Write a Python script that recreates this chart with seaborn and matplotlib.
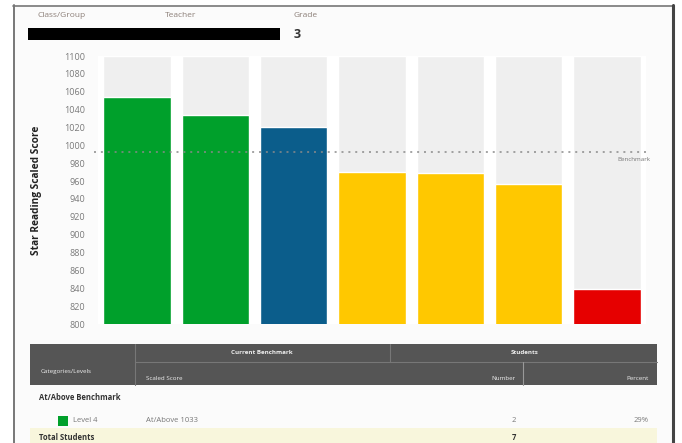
import matplotlib
matplotlib.use("Agg")
import matplotlib.pyplot as plt
from matplotlib.patches import Rectangle
import matplotlib.transforms as mtransforms
import pandas as pd
import seaborn as sns

# ---- data -------------------------------------------------------------
students = ["A", "B", "C", "D", "E", "F", "G"]
scores = [1054, 1034, 1020, 970, 969, 957, 839]
levels = ["Level 4", "Level 4", "Level 3", "Level 2", "Level 2", "Level 2", "Level 1"]
level_colors = {"Level 4": "#00a02b", "Level 3": "#0b5d8b",
                "Level 2": "#ffc800", "Level 1": "#e60000"}
benchmark = 993
y_min, y_max = 800, 1100
y_ticks = list(range(800, 1101, 20))

grade = "3"
table_rows = [("Level 4", "At/Above 1033", "2", "29%")]
total_students = "7"

df = pd.DataFrame({"student": students, "score": scores, "level": levels,
                   "full": [y_max] * len(students)})

sns.set_theme(style="white")
plt.rcParams["font.family"] = ["Open Sans", "DejaVu Sans"]

W, H = 682, 443
fig = plt.figure(figsize=(W / 100, H / 100), dpi=100)
fig.patch.set_facecolor("#ffffff")

# page-level canvas in pixel coordinates
pg = fig.add_axes([0, 0, 1, 1], zorder=0)
pg.set_xlim(0, W)
pg.set_ylim(H, 0)
pg.axis("off")

# report panel with border
pg.add_patch(Rectangle((13, 5), 660, 450, facecolor="#fbfbfb", edgecolor="none"))
pg.plot([13.5, 13.5], [5, H], color="#777777", lw=1.4)
pg.plot([13, 673], [5.5, 5.5], color="#777777", lw=1.2)
pg.plot([672.5, 672.5], [5, H], color="#444444", lw=2.2)

# header block
hdr_col = "#8c7f78"
pg.text(38, 15, "Class/Group", fontsize=6, color=hdr_col, va="center")
pg.text(165, 15, "Teacher", fontsize=6, color=hdr_col, va="center")
pg.text(294, 15, "Grade", fontsize=6, color=hdr_col, va="center")
pg.add_patch(Rectangle((27.5, 28), 252, 12, facecolor="#000000", edgecolor="none"))
pg.text(294, 34, grade, fontsize=9, fontweight="bold", color="#333333", va="center")

# ---- bar chart ----------------------------------------------------------
ax = fig.add_axes([98 / W, (H - 324) / H, 548 / W, 268 / H], zorder=2)
ax.set_facecolor("#ffffff")

sns.barplot(data=df, x="student", y="full", color="#efefef", width=0.86,
            saturation=1, ax=ax, zorder=1)
sns.barplot(data=df, x="student", y="score", hue="level", palette=level_colors,
            width=0.86, saturation=1, dodge=False, legend=False, ax=ax, zorder=2)

ax.set_xlim(-0.5, len(students) - 0.5)
ax.set_ylim(y_min, y_max)
ax.set_yticks(y_ticks)
ax.set_yticklabels([str(t) for t in y_ticks])
ax.set_xticks([])
ax.set_xlabel("")
ax.set_ylabel("Star Reading Scaled Score", fontsize=7.3, fontweight="bold",
              color="#222222")
ax.yaxis.set_label_coords((42 - 98) / 548, (324 - 190) / 268)
ax.tick_params(axis="y", length=0, pad=9, labelsize=6.5, labelcolor="#7a7a7a")
for s in ax.spines.values():
    s.set_visible(False)

ax.axhline(benchmark, xmin=-4 / 548, xmax=552 / 548, color="#8a8a8a",
           lw=1.1, ls=(0, (1.3, 3.2)), clip_on=False, zorder=3)
trans = mtransforms.blended_transform_factory(ax.transAxes, ax.transData)
ax.annotate("Benchmark", xy=(552 / 548, benchmark), xycoords=trans,
            xytext=(0, -4), textcoords="offset points", ha="right", va="top",
            fontsize=4.5, color="#777777", annotation_clip=False)

# ---- summary table -------------------------------------------------------
x0, x1 = 30, 657
pg.add_patch(Rectangle((x0, 344), x1 - x0, 41, facecolor="#555555", edgecolor="none"))
pg.plot([135, 135], [344, 385], color="#777777", lw=0.8)
pg.plot([135, x1], [362, 362], color="#777777", lw=0.8)
pg.plot([390, 390], [344, 362], color="#777777", lw=0.8)
pg.plot([523, 523], [362, 385], color="#999999", lw=0.8)
hc = "#eeeeee"
pg.text(262, 353, "Current Benchmark", fontsize=4.5, color=hc, fontweight="bold",
        ha="center", va="center")
pg.text(525, 353, "Students", fontsize=4.5, color=hc, fontweight="bold",
        ha="center", va="center")
pg.text(41, 372, "Categories/Levels", fontsize=4.5, color=hc, va="center")
pg.text(146, 378, "Scaled Score", fontsize=4.5, color=hc, va="center")
pg.text(516, 378, "Number", fontsize=4.5, color=hc, ha="right", va="center")
pg.text(649, 378, "Percent", fontsize=4.5, color=hc, ha="right", va="center")

pg.text(39, 398, "At/Above Benchmark", fontsize=5.5, fontweight="bold",
        color="#333333", va="center")
for i, (lvl, rng, num, pct) in enumerate(table_rows):
    y = 421 + i * 22
    pg.add_patch(Rectangle((58, y - 5), 9.5, 9.5, facecolor=level_colors[lvl],
                           edgecolor="none"))
    pg.text(73, y, lvl, fontsize=5.5, color="#777777", va="center")
    pg.text(146, y, rng, fontsize=5.5, color="#777777", va="center")
    pg.text(516, y, num, fontsize=5.5, color="#777777", ha="right", va="center")
    pg.text(649, y, pct, fontsize=5.5, color="#777777", ha="right", va="center")

pg.add_patch(Rectangle((x0, 428), x1 - x0, 20, facecolor="#f8f6dc", edgecolor="none"))
pg.text(39, 438, "Total Students", fontsize=5.5, fontweight="bold",
        color="#333333", va="center")
pg.text(516, 438, total_students, fontsize=5.5, fontweight="bold",
        color="#333333", ha="right", va="center")

fig.savefig("out.png", dpi=100)
